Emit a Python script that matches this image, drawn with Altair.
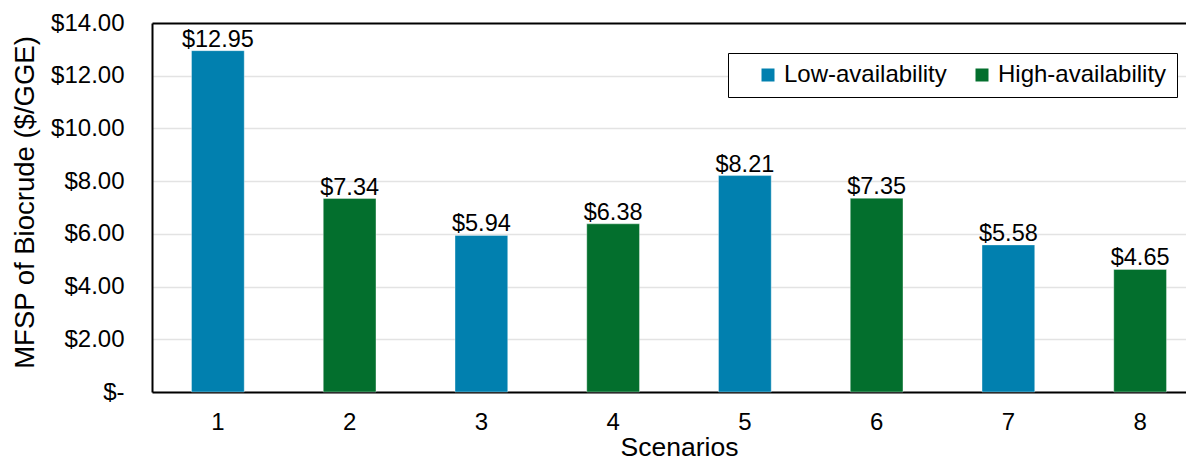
import altair as alt
import pandas as pd

scenarios = ["1", "2", "3", "4", "5", "6", "7", "8"]
mfsp = [12.95, 7.34, 5.94, 6.38, 8.21, 7.35, 5.58, 4.65]
availability = ["Low-availability", "High-availability"] * 4
legend_order = ["Low-availability", "High-availability"]
colors = ["#0180AF", "#036F2D"]

df = pd.DataFrame({"Scenario": scenarios, "MFSP": mfsp, "Availability": availability})

FONT = "Liberation Sans"
W, H = 1034, 369
BAND_RANGE = 1054

x = alt.X("Scenario:N", sort=scenarios,
          scale=alt.Scale(paddingInner=0.6, paddingOuter=0.3, range=[0, BAND_RANGE]),
          axis=alt.Axis(title="Scenarios", labelAngle=0, ticks=False,
                        labelPadding=18, labelFontSize=24, labelColor="#000",
                        titleFontSize=26.5, titleFontWeight="normal", titleColor="#000",
                        titleX=527, titleY=63, titleBaseline="alphabetic", titleAlign="center",
                        domainColor="#000", domainWidth=2))
y = alt.Y("MFSP:Q",
          scale=alt.Scale(domain=[0, 14], nice=False),
          axis=alt.Axis(title="MFSP of Biocrude ($/GGE)", values=[0, 2, 4, 6, 8, 10, 12, 14],
                        labelExpr="datum.value == 0 ? '$-\u00a0\u00a0' : format(datum.value, '$.2f')",
                        ticks=False, labelPadding=28, labelFontSize=24, labelColor="#000",
                        titleFontSize=27.5, titleFontWeight="normal", titleColor="#000",
                        titleX=-127, titleY=179, titleBaseline="middle", titleAlign="center",
                        gridColor={"condition": {"test": "datum.value == 14", "value": "#000"}, "value": "#E3E3E3"},
                        gridWidth={"condition": {"test": "datum.value == 14", "value": 2}, "value": 1.5},
                        domainColor="#000", domainWidth=2))

bars = alt.Chart(df).mark_bar(stroke="#ffffff", strokeOpacity=0.35, strokeWidth=1).encode(
    x=x, y=y,
    color=alt.Color("Availability:N",
                    scale=alt.Scale(domain=legend_order, range=colors),
                    legend=alt.Legend(title=None, orient="none", legendX=576, legendY=30,
                                      direction="horizontal", strokeColor="#000",
                                      padding=10, symbolType="square", symbolSize=169,
                                      symbolStrokeWidth=0, symbolOffset=18,
                                      labelFontSize=24, labelColor="#000", labelOffset=4,
                                      labelLimit=400, columnPadding=5, fillColor="#ffffff")),
)

labels = alt.Chart(df).mark_text(baseline="alphabetic", dy=-4, fontSize=23.5, font=FONT, color="#000").encode(
    x=alt.X("Scenario:N", sort=scenarios),
    y="MFSP:Q",
    text=alt.Text("MFSP:Q", format="$.2f"),
)

chart = (bars + labels).properties(
    width=W, height=H,
    autosize=alt.AutoSizeParams(type="none"),
    padding={"left": 144, "top": 15, "right": 0, "bottom": 70},
).configure(font=FONT).configure_view(stroke=None)

chart.save("out.html", embed_options={"renderer": "svg", "actions": False})
